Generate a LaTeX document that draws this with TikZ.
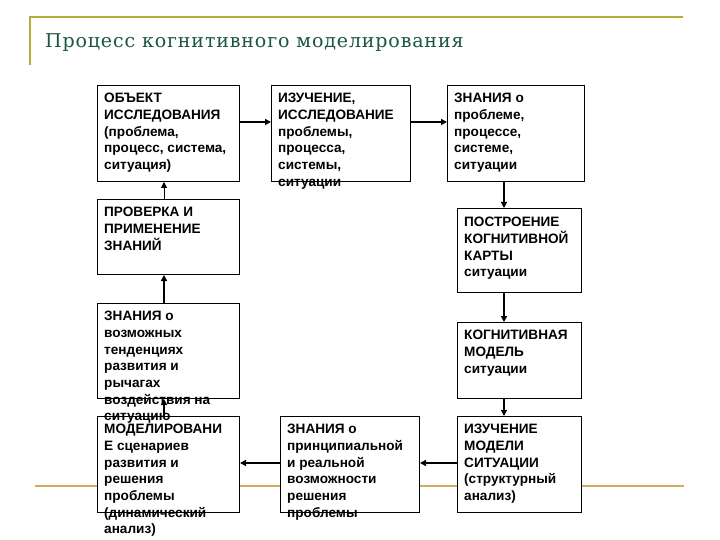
\documentclass[tikz,border=0pt]{standalone}
\usepackage{fontspec}
\setsansfont{Liberation Sans}
\newfontfamily\titlefont[LetterSpace=4.5]{DejaVu Serif}
\usepackage{tikz}
\usetikzlibrary{positioning, arrows.meta}

\definecolor{titlegreen}{RGB}{25,85,65}
\definecolor{topline}{RGB}{185,170,60}
\definecolor{bottomline}{RGB}{205,172,92}

\begin{document}
\begin{tikzpicture}[
    x=1pt, y=-1pt,
    box/.style={draw, fill=white, line width=1pt, inner sep=0pt, anchor=north west},
    txt/.style={inner sep=0pt, align=left, font=\fontsize{13.6}{16.7}\selectfont\sffamily\bfseries},
    flow/.style={line width=2pt, -{Triangle[length=6pt, width=6pt]}},
]
\useasboundingbox (0,0) rectangle (720,540);

% Slide frame and title
\draw[topline, line width=2.5pt] (30,65) -- (30,17) -- (683,17);
\draw[bottomline, line width=2.5pt] (35,486) -- (684,486);
\node[anchor=base west, inner sep=0pt, text=titlegreen, font=\titlefont\fontsize{19}{22}\selectfont] (title) at (45,48) {Процесс когнитивного моделирования};

% Boxes
\node[box, minimum width=142pt, minimum height=96pt] (obj) at (97,85) {};
\node[box, minimum width=139pt, minimum height=96pt] (stud) at (271,85) {};
\node[box, minimum width=137pt, minimum height=96pt] (know) at (447,85) {};
\node[box, minimum width=142pt, minimum height=75pt] (check) at (97,199) {};
\node[box, minimum width=124pt, minimum height=84pt] (build) at (457,208) {};
\node[box, minimum width=124pt, minimum height=76pt] (cogn) at (457,322) {};
\node[box, minimum width=142pt, minimum height=95pt] (trend) at (97,303) {};
\node[box, minimum width=142pt, minimum height=96pt] (simul) at (97,416) {};
\node[box, minimum width=139pt, minimum height=96pt] (poss) at (280,416) {};
\node[box, minimum width=124pt, minimum height=96pt] (model) at (457,416) {};

% Box texts
\node[txt, below right=8pt and 7pt of obj.north west] (obj-t) {ОБЪЕКТ\\ИССЛЕДОВАНИЯ\\(проблема,\\процесс, система,\\ситуация)};
\node[txt, below right=8pt and 7pt of stud.north west] (stud-t) {ИЗУЧЕНИЕ,\\ИССЛЕДОВАНИЕ\\проблемы,\\процесса,\\системы,\\ситуации};
\node[txt, below right=8pt and 7pt of know.north west] (know-t) {ЗНАНИЯ о\\проблеме,\\процессе,\\системе,\\ситуации};
\node[txt, below right=8pt and 7pt of check.north west] (check-t) {ПРОВЕРКА И\\ПРИМЕНЕНИЕ\\ЗНАНИЙ};
\node[txt, below right=9pt and 7pt of build.north west] (build-t) {ПОСТРОЕНИЕ\\КОГНИТИВНОЙ\\КАРТЫ\\ситуации};
\node[txt, below right=8pt and 7pt of cogn.north west] (cogn-t) {КОГНИТИВНАЯ\\МОДЕЛЬ\\ситуации};
\node[txt, below right=8pt and 7pt of trend.north west] (trend-t) {ЗНАНИЯ о\\возможных\\тенденциях\\развития и\\рычагах\\воздействия на\\ситуацию};
\node[txt, below right=8pt and 7pt of simul.north west] (simul-t) {МОДЕЛИРОВАНИ\\Е сценариев\\развития и\\решения\\проблемы\\(динамический\\анализ)};
\node[txt, below right=8pt and 7pt of poss.north west] (poss-t) {ЗНАНИЯ о\\принципиальной\\и реальной\\возможности\\решения\\проблемы};
\node[txt, below right=8pt and 7pt of model.north west] (model-t) {ИЗУЧЕНИЕ\\МОДЕЛИ\\СИТУАЦИИ\\(структурный\\анализ)};

% Arrow lanes
\coordinate (toprow) at (0,122);
\coordinate (botrow) at (0,463);
\coordinate (lcol) at (164,0);
\coordinate (rcol) at (504,0);

% Arrows
\draw[flow] (obj.east |- toprow) -- (stud.west |- toprow);
\draw[flow] (stud.east |- toprow) -- (know.west |- toprow);
\draw[flow] (know.south -| rcol) -- (build.north -| rcol);
\draw[flow] (build.south -| rcol) -- (cogn.north -| rcol);
\draw[flow] (cogn.south -| rcol) -- (model.north -| rcol);
\draw[flow] (model.west |- botrow) -- (poss.east |- botrow);
\draw[flow] (poss.west |- botrow) -- (simul.east |- botrow);
\draw[flow] (simul.north -| lcol) -- (trend.south -| lcol);
\draw[flow] (trend.north -| lcol) -- (check.south -| lcol);
\draw[flow, line width=1pt] (check.north -| lcol) -- (obj.south -| lcol);
\end{tikzpicture}
\end{document}
